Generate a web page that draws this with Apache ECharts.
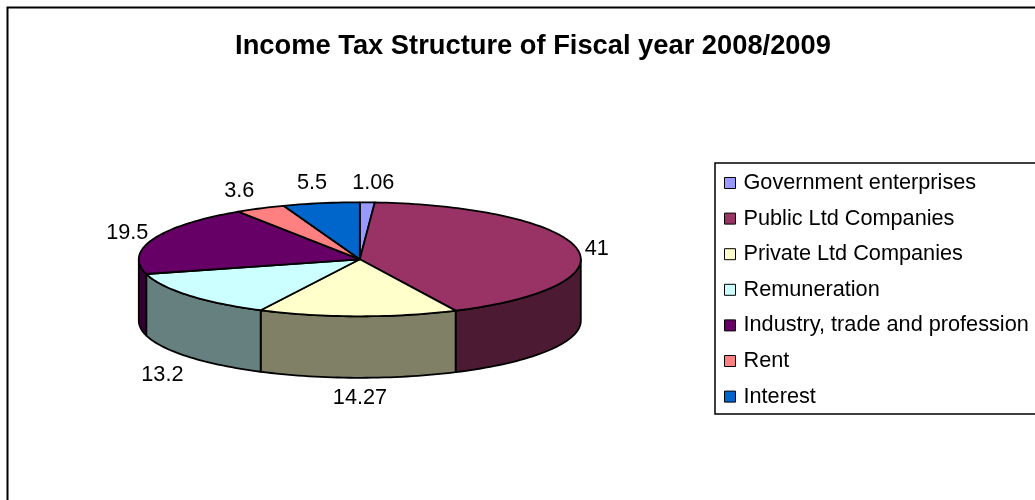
<!DOCTYPE html>
<html>
<head>
<meta charset="utf-8">
<style>html,body{margin:0;padding:0;background:#fff}#chart{width:1035px;height:500px}</style>
<script src="https://cdn.jsdelivr.net/npm/echarts@6/dist/echarts.min.js"></script>
</head>
<body>
<div id="chart"></div>
<script>
// Income tax revenue shares, fiscal year 2008/2009
var categories = ['Government enterprises', 'Public Ltd Companies', 'Private Ltd Companies', 'Remuneration', 'Industry, trade and profession', 'Rent', 'Interest'];
var shares = [1.06, 41, 14.27, 13.2, 19.5, 3.6, 5.5];
var shareLabels = ['1.06', '41', '14.27', '13.2', '19.5', '3.6', '5.5'];
var sliceColors = ['#9999FF', '#993366', '#FFFFCC', '#CCFFFF', '#660066', '#FF8080', '#0066CC'];
var wallColors = ['#4D4D80', '#4D1A33', '#808066', '#668080', '#330033', '#804040', '#003366'];

// Tilted disc geometry
var CX = 359.8, CY = 259.3, RX = 221, RY = 57, DEPTH = 61.5;
var FONT = '21.7px "Liberation Sans", Arial, sans-serif';
// Label shift away from the rim point of each slice's middle angle
var labelShift = [[6, -19.5], [20, 1], [2, 20], [-26, 18.5], [-26, -5.5], [-21, -17.5], [-9, -20]];

var total = shares.reduce(function (a, b) { return a + b; }, 0);
var startDeg = [];
shares.reduce(function (acc, v, i) { startDeg[i] = acc; return acc + v / total * 360; }, 0);

function rim(deg, dy) {
  var t = deg * Math.PI / 180;
  return [CX + RX * Math.sin(t), CY - RY * Math.cos(t) + (dy || 0)];
}
function arc(from, to, dy) {
  var pts = [], n = Math.max(2, Math.ceil((to - from) / 1.5));
  for (var k = 0; k <= n; k++) pts.push(rim(from + (to - from) * k / n, dy));
  return pts;
}

function renderSlice(params) {
  var i = params.seriesIndex;
  var from = startDeg[i], to = from + shares[i] / total * 360, mid = (from + to) / 2;
  var children = [];
  var lineStyle = { stroke: '#000', lineWidth: 1.8, lineJoin: 'round' };

  // Only the near half of the disc shows its side wall
  var wFrom = Math.max(from, 90), wTo = Math.min(to, 270);
  if (wTo > wFrom) {
    var wall = arc(wFrom, wTo, 0).concat(arc(wFrom, wTo, DEPTH).reverse());
    children.push({
      type: 'polygon',
      shape: { points: wall },
      style: Object.assign({ fill: wallColors[i] }, lineStyle)
    });
  }
  children.push({
    type: 'polygon',
    shape: { points: [[CX, CY]].concat(arc(from, to, 0)) },
    style: Object.assign({ fill: sliceColors[i] }, lineStyle)
  });

  var isFront = mid > 90 && mid < 270;
  var anchor = rim(mid, isFront ? DEPTH : 0);
  children.push({
    type: 'text',
    z2: 10,
    style: {
      x: anchor[0] + labelShift[i][0],
      y: anchor[1] + labelShift[i][1],
      text: shareLabels[i],
      font: FONT,
      fill: '#000',
      align: 'center',
      verticalAlign: 'middle'
    }
  });
  return { type: 'group', children: children };
}

var chart = echarts.init(document.getElementById('chart'), null, { renderer: 'canvas' });
chart.setOption({
  animation: false,
  backgroundColor: '#fff',
  title: {
    text: 'Income Tax Structure of Fiscal year 2008/2009',
    left: 528,
    top: 28,
    textAlign: 'center',
    textStyle: { fontFamily: '"Liberation Sans", Arial, sans-serif', fontSize: 27.3, fontWeight: 'bold', color: '#000' }
  },
  legend: {
    orient: 'vertical',
    left: 715,
    top: 163,
    padding: [7.5, 12, 5, 9],
    itemWidth: 11,
    itemHeight: 11,
    itemGap: 10.6,
    icon: 'rect',
    selectedMode: false,
    borderColor: '#000',
    borderWidth: 1.5,
    backgroundColor: '#fff',
    itemStyle: { borderColor: '#000', borderWidth: 1 },
    textStyle: { fontFamily: '"Liberation Sans", Arial, sans-serif', fontSize: 21.7, color: '#000', padding: [0, 0, 0, 3], lineHeight: 25 },
    data: categories
  },
  graphic: [{
    type: 'rect',
    silent: true,
    z: -1,
    shape: { x: 7.5, y: 7.5, width: 1100, height: 600 },
    style: { fill: 'none', stroke: '#000', lineWidth: 2 }
  }],
  series: categories.map(function (name, i) {
    return {
      type: 'custom',
      name: name,
      coordinateSystem: 'none',
      silent: true,
      renderItem: renderSlice,
      itemStyle: { color: sliceColors[i] },
      data: [shares[i]]
    };
  })
});
</script>
</body>
</html>
